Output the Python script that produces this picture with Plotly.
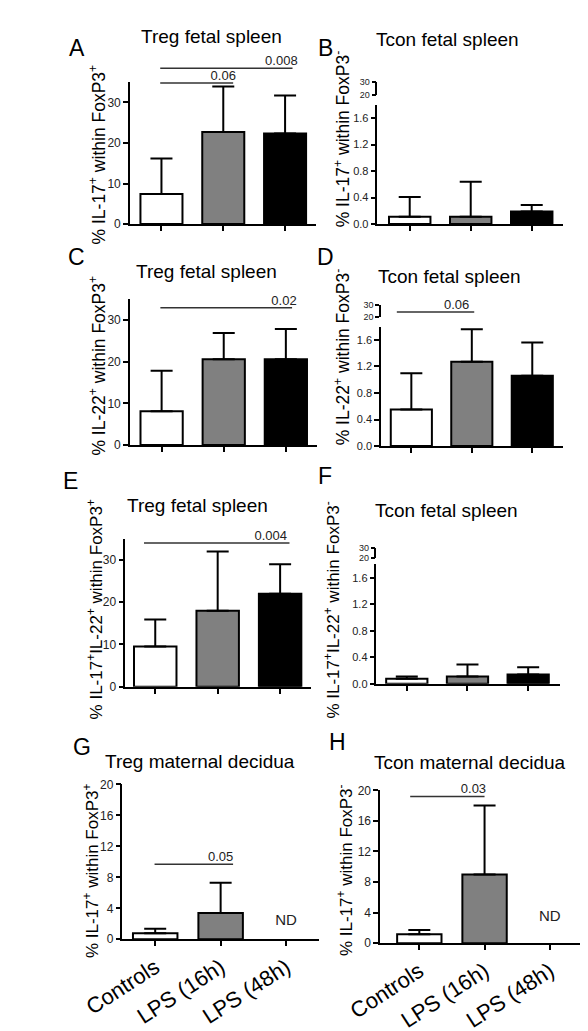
import plotly.graph_objects as go

# ---------------- data ----------------
categories = ["Controls", "LPS (16h)", "LPS (48h)"]
bar_colors = ["white", "#808080", "black"]

A_mean = [7.4, 22.7, 22.3]
A_sd = [8.8, 11.2, 9.4]
B_mean = [0.11, 0.11, 0.19]
B_sd = [0.30, 0.53, 0.10]
C_mean = [8.1, 20.6, 20.6]
C_sd = [9.7, 6.3, 7.2]
D_mean = [0.55, 1.27, 1.06]
D_sd = [0.55, 0.49, 0.50]
E_mean = [9.5, 18.0, 22.0]
E_sd = [6.4, 14.0, 7.0]
F_mean = [0.075, 0.11, 0.14]
F_sd = [0.035, 0.18, 0.11]
G_mean = [0.77, 3.4, None]
G_sd = [0.59, 3.9, None]
H_mean = [1.16, 9.0, None]
H_sd = [0.56, 9.0, None]

# significance brackets: (start category, end category, height, p-value, label position)
A_sig = [(-0.02, 1.16, 34.8, "0.06", 1.0), (-0.02, 2.12, 38.4, "0.008", 1.94)]
B_sig = []
C_sig = [(-0.02, 2.1, 32.9, "0.02", 1.97)]
D_sig = [(-0.24, 1.04, 2.02, "0.06", 0.75)]
E_sig = [(-0.18, 2.15, 34.0, "0.004", 1.85)]
F_sig = []
G_sig = [(-0.01, 1.19, 9.7, "0.05", 1.0)]
H_sig = [(-0.14, 1.0, 19.2, "0.03", 0.83)]

G_nd = 2.3
H_nd = 3.4

# ---------------- layout helpers ----------------
W, H = 588, 1031
FONT = "Liberation Sans, Arial, sans-serif"


def xd(px):
    return px / W


def yd(py):
    return 1 - py / H


panels = [
    dict(letter="A", mean=A_mean, sd=A_sd, sig=A_sig, nd=None, ytop=35, ext=42,
         tickvals=[0, 10, 20, 30], fmt="d", tfs=12, xpx=(87, 287), ypx=(212, 68), xr=(-0.51, 2.5),
         brk=None, title="Treg fetal spleen", tpos=(175, 22), lpos=(30, 33),
         ytitle="% IL-17<sup>+</sup> within FoxP3<sup>+</sup>", ytpos=(52, 141), yfs=17.5, xlab=False),
    dict(letter="B", mean=B_mean, sd=B_sd, sig=B_sig, nd=None, ytop=1.8, ext=2.4,
         tickvals=[0, 0.4, 0.8, 1.2, 1.6], fmt=".1f", tfs=11, xpx=(353, 553), ypx=(212, 91), xr=(-0.53, 2.52),
         brk=(81, 68), title="Tcon fetal spleen", tpos=(428, 25), lpos=(297, 33),
         ytitle="% IL-17<sup>+</sup> within FoxP3<sup>-</sup>", ytpos=(315, 126), yfs=17.5, xlab=False),
    dict(letter="C", mean=C_mean, sd=C_sd, sig=C_sig, nd=None, ytop=35, ext=40,
         tickvals=[0, 10, 20, 30], fmt="d", tfs=12, xpx=(87, 288), ypx=(436, 288), xr=(-0.51, 2.5),
         brk=None, title="Treg fetal spleen", tpos=(169, 260), lpos=(30, 245),
         ytitle="% IL-22<sup>+</sup> within FoxP3<sup>+</sup>", ytpos=(52, 355), yfs=17.5, xlab=False),
    dict(letter="D", mean=D_mean, sd=D_sd, sig=D_sig, nd=None, ytop=1.8, ext=2.4,
         tickvals=[0, 0.4, 0.8, 1.2, 1.6], fmt=".1f", tfs=11, xpx=(357, 552), ypx=(437, 316), xr=(-0.5, 2.5),
         brk=(306, 294), title="Tcon fetal spleen", tpos=(430, 265), lpos=(297, 245),
         ytitle="% IL-22<sup>+</sup> within FoxP3<sup>-</sup>", ytpos=(315, 347), yfs=17.5, xlab=False),
    dict(letter="E", mean=E_mean, sd=E_sd, sig=E_sig, nd=None, ytop=35, ext=40,
         tickvals=[0, 10, 20, 30], fmt="d", tfs=12, xpx=(82, 282), ypx=(681, 531), xr=(-0.48, 2.5),
         brk=None, title="Treg fetal spleen", tpos=(160, 497), lpos=(23, 472),
         ytitle="% IL-17<sup>+</sup>IL-22<sup>+</sup> within FoxP3<sup>+</sup>", ytpos=(49, 603), yfs=17, xlab=False),
    dict(letter="F", mean=F_mean, sd=F_sd, sig=F_sig, nd=None, ytop=1.8, ext=2.4,
         tickvals=[0, 0.4, 0.8, 1.2, 1.6], fmt=".1f", tfs=11, xpx=(352, 549), ypx=(678, 557), xr=(-0.5, 2.52),
         brk=(550, 540), title="Tcon fetal spleen", tpos=(427, 502), lpos=(297, 467),
         ytitle="% IL-17<sup>+</sup>IL-22<sup>+</sup> within FoxP3<sup>-</sup>", ytpos=(304, 603), yfs=17, xlab=False),
    dict(letter="G", mean=G_mean, sd=G_sd, sig=G_sig, nd=G_nd, ytop=20, ext=24,
         tickvals=[0, 4, 8, 12, 16, 20], fmt="d", tfs=12, xpx=(79, 290), ypx=(937, 780), xr=(-0.5, 2.5),
         brk=None, title="Treg maternal decidua", tpos=(162, 757), lpos=(35, 742),
         ytitle="% IL-17<sup>+</sup> within FoxP3<sup>+</sup>", ytpos=(45, 867), yfs=17, xlab=True),
    dict(letter="H", mean=H_mean, sd=H_sd, sig=H_sig, nd=H_nd, ytop=20, ext=24,
         tickvals=[0, 4, 8, 12, 16, 20], fmt="d", tfs=12, xpx=(356, 572), ypx=(941, 786), xr=(-0.6, 2.48),
         brk=None, title="Tcon maternal decidua", tpos=(453, 758), lpos=(310, 737),
         ytitle="% IL-17<sup>+</sup> within FoxP3<sup>-</sup>", ytpos=(318, 867), yfs=17, xlab=True),
]

fig = go.Figure()
layout = {}
annotations = []
xpos = [0, 1, 2]

for i, p in enumerate(panels, start=1):
    sx = "" if i == 1 else str(i)
    xa, ya = "x" + sx, "y" + sx
    ye = "y" + str(i + 8)
    yb = "y" + str(i + 16)

    sd_plus = p["sd"]
    sd_minus = [0 if s is not None else None for s in p["sd"]]
    fig.add_trace(go.Bar(
        x=xpos, y=p["mean"], width=0.68,
        marker=dict(color=bar_colors, line=dict(color="black", width=2)),
        error_y=dict(type="data", symmetric=False, array=sd_plus, arrayminus=sd_minus,
                     color="black", thickness=2, width=11),
        xaxis=xa, yaxis=ya, showlegend=False, hoverinfo="skip"))

    # significance brackets on an extended (hidden) axis with the same scale
    for (x0, x1, yy, lab, lx) in p["sig"]:
        fig.add_trace(go.Scatter(x=[x0, x1], y=[yy, yy], mode="lines",
                                 line=dict(color="#333333", width=1.5),
                                 xaxis=xa, yaxis=ye, showlegend=False, hoverinfo="skip"))
        fig.add_trace(go.Scatter(x=[lx], y=[yy], mode="text", text=[lab], textposition="top center",
                                 textfont=dict(size=13, color="#222222", family=FONT),
                                 cliponaxis=False, xaxis=xa, yaxis=ye, showlegend=False, hoverinfo="skip"))
    if not p["sig"]:
        fig.add_trace(go.Scatter(x=[None], y=[None], xaxis=xa, yaxis=ye, showlegend=False, hoverinfo="skip"))

    if p["nd"] is not None:
        fig.add_trace(go.Scatter(x=[2], y=[p["nd"]], mode="text", text=["ND"],
                                 textfont=dict(size=15, color="#222222", family=FONT),
                                 cliponaxis=False, xaxis=xa, yaxis=ya, showlegend=False, hoverinfo="skip"))

    ybot, ytopp = p["ypx"]
    ext_px = ybot - (ybot - ytopp) * p["ext"] / p["ytop"]

    layout["xaxis" + sx] = dict(
        domain=[xd(p["xpx"][0]), xd(p["xpx"][1])], range=list(p["xr"]), anchor=ya,
        tickvals=xpos, ticktext=categories, showticklabels=p["xlab"], tickangle=-33,
        tickfont=dict(size=22, color="black", family=FONT),
        ticks="outside", ticklen=5, tickwidth=1.5, tickcolor="black",
        showline=True, linecolor="black", linewidth=1.5, showgrid=False, zeroline=False, fixedrange=True)
    layout["yaxis" + sx] = dict(
        domain=[yd(ybot), yd(ytopp)], range=[0, p["ytop"]], anchor=xa,
        tickvals=p["tickvals"], tickformat=p["fmt"],
        tickfont=dict(size=p["tfs"], color="#222222", family=FONT),
        ticks="outside", ticklen=5, tickwidth=1.5, tickcolor="black",
        showline=True, linecolor="black", linewidth=1.5, showgrid=False, zeroline=False, fixedrange=True)
    layout["yaxis" + str(i + 8)] = dict(
        domain=[yd(ybot), yd(ext_px)], range=[0, p["ext"]], anchor=xa, visible=False, fixedrange=True)

    if p["brk"] is not None:
        fig.add_trace(go.Scatter(x=[None], y=[None], xaxis=xa, yaxis=yb, showlegend=False, hoverinfo="skip"))
        layout["yaxis" + str(i + 16)] = dict(
            domain=[yd(p["brk"][0]), yd(p["brk"][1])], range=[20, 30], anchor=xa,
            tickvals=[20, 30], tickfont=dict(size=9, color="#222222", family=FONT),
            ticks="outside", ticklen=4, tickwidth=1.5, tickcolor="black",
            showline=True, linecolor="black", linewidth=1.5, showgrid=False, zeroline=False, fixedrange=True)

    annotations.append(dict(text=p["letter"], x=xd(p["lpos"][0]), y=yd(p["lpos"][1]), xref="paper", yref="paper",
                            showarrow=False, xanchor="center", yanchor="middle",
                            font=dict(size=23, color="black", family=FONT)))
    annotations.append(dict(text=p["title"], x=xd(p["tpos"][0]), y=yd(p["tpos"][1]), xref="paper", yref="paper",
                            showarrow=False, xanchor="center", yanchor="middle",
                            font=dict(size=19, color="black", family=FONT)))
    annotations.append(dict(text=p["ytitle"], x=xd(p["ytpos"][0]), y=yd(p["ytpos"][1]), xref="paper", yref="paper",
                            showarrow=False, xanchor="center", yanchor="middle", textangle=-90,
                            font=dict(size=p["yfs"], color="black", family=FONT)))

fig.update_layout(
    width=W, height=H, margin=dict(l=0, r=0, t=0, b=0),
    paper_bgcolor="white", plot_bgcolor="rgba(0,0,0,0)",
    font=dict(family=FONT, color="black"),
    annotations=annotations, showlegend=False, **layout)

fig.write_html("out.html")
